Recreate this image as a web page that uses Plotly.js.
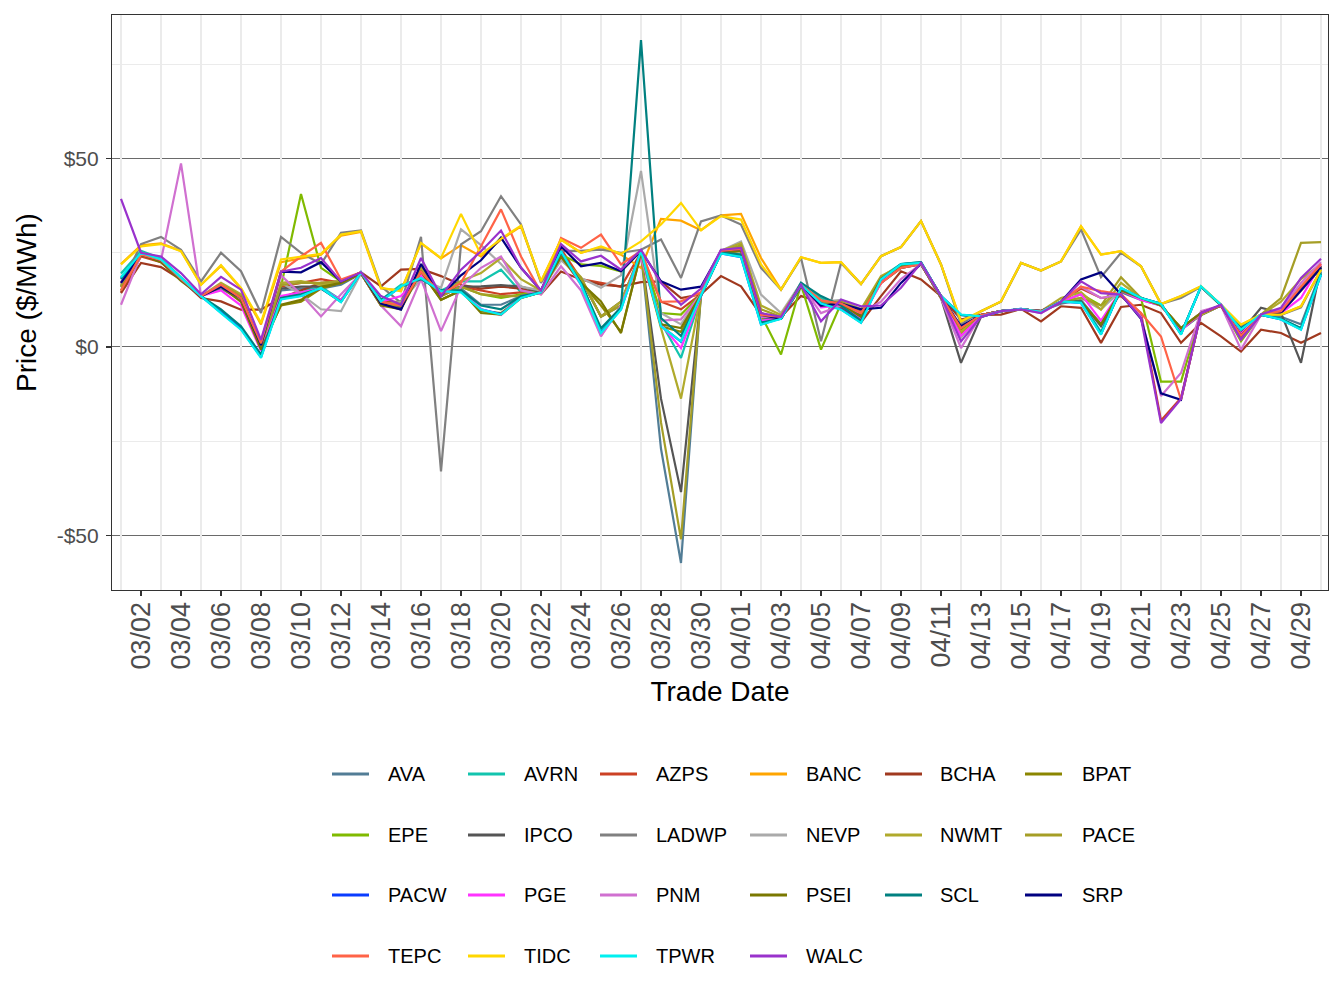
<!DOCTYPE html>
<html>
<head>
<meta charset="utf-8">
<script src="https://cdn.plot.ly/plotly-3.0.1.min.js"></script>
<style>html,body{margin:0;padding:0;background:#ffffff;}</style>
</head>
<body>
<div id="chart" style="width:1344px;height:1008px"></div>
<script>
// Daily trade dates, 1 March to 30 April
const tradeDates = [
  '2023-03-01','2023-03-02','2023-03-03','2023-03-04','2023-03-05','2023-03-06','2023-03-07','2023-03-08','2023-03-09','2023-03-10',
  '2023-03-11','2023-03-12','2023-03-13','2023-03-14','2023-03-15','2023-03-16','2023-03-17','2023-03-18','2023-03-19','2023-03-20',
  '2023-03-21','2023-03-22','2023-03-23','2023-03-24','2023-03-25','2023-03-26','2023-03-27','2023-03-28','2023-03-29','2023-03-30',
  '2023-03-31','2023-04-01','2023-04-02','2023-04-03','2023-04-04','2023-04-05','2023-04-06','2023-04-07','2023-04-08','2023-04-09',
  '2023-04-10','2023-04-11','2023-04-12','2023-04-13','2023-04-14','2023-04-15','2023-04-16','2023-04-17','2023-04-18','2023-04-19',
  '2023-04-20','2023-04-21','2023-04-22','2023-04-23','2023-04-24','2023-04-25','2023-04-26','2023-04-27','2023-04-28','2023-04-29',
  '2023-04-30'
];

// Daily average price by balancing area ($/MWh)
const AVA = [
  17, 24.5, 23, 18, 13.5, 15.5, 12.5, -0.5, 15, 15.5,
  15.5, 16.5, 19.5, 11.5, 12, 20, 14, 15.5, 11.2, 11.2,
  13.5, 14.5, 24, 18, 8, 11, 25, -27, -57.3, 14,
  25, 25.5, 7.5, 7.5, 16.5, 11, 11, 8, 17.5, 21.5,
  22, 13, 5, 8.5, 9.5, 10, 9.5, 11.5, 12.5, 6,
  14.5, 12.5, 11, 4.5, 8.5, 11, 3, 8.5, 8, 6,
  20];
const AVRN = [
  19.5, 25.5, 23.5, 18.5, 13.5, 9.5, 5, -2.5, 13, 14.5,
  16, 12.5, 19.8, 12.5, 16.5, 18, 15, 17.4, 17.4, 20.5,
  14.5, 14.5, 25, 17, 4.5, 10.4, 25.5, 6.5, -2.9, 13.5,
  25, 24.5, 6.5, 8, 17, 13, 10.5, 7, 18.5, 22,
  22.5, 13.5, 8.5, 8, 9.5, 10, 9.5, 12, 12, 4,
  15.5, 13, 11.5, 3.5, 16, 11, 5, 8.5, 7.5, 5,
  19.5];
const AZPS = [
  14.5, 24, 22.5, 18, 13.5, 16, 12.5, 0.5, 16, 17,
  18, 17, 19.5, 12, 12, 20, 14.5, 16, 15, 14,
  14.5, 15, 26, 18, 17, 16, 25, 12, 10, 14,
  25.5, 26, 8.5, 7.5, 16.5, 12, 12, 9.5, 17, 21,
  22, 13.5, 5, 8.5, 9.5, 10, 9.5, 12, 15.5, 13,
  13.5, 9, -19.5, -13.5, 9, 11, 3, 8.5, 9.5, 15.5,
  21.5];
const BANC = [
  22, 27, 27.5, 25.5, 16.5, 21.5, 15.5, 6, 22.5, 23.5,
  24.5, 29.5, 30.5, 15.5, 15, 27.5, 23.5, 27, 24, 28.5,
  32, 17.4, 28.5, 25, 26.5, 24.5, 21, 34, 33.5, 31,
  34.9, 35.3, 23.6, 15.2, 23.8, 22.3, 22.5, 16.7, 24.1, 26.5,
  33.4, 21.9, 6.8, 9.5, 12.1, 22.3, 20.3, 22.7, 32, 24.5,
  25.4, 21.4, 11.4, 13.5, 16.1, 11.2, 5.9, 8.6, 8.6, 10.8,
  20.5];
const BCHA = [
  14.3, 22.3, 21.2, 17.9, 13, 12.1, 9.9, 9.9, 13, 15,
  17, 17.4, 19.8, 16.1, 20.5, 20.7, 18.8, 16.5, 15.5, 16,
  15.5, 14, 20, 17.9, 16.5, 16.1, 17.2, 17.4, 13, 14,
  18.8, 16.1, 8.5, 8, 13.5, 12, 10.5, 6.5, 13.5, 20.1,
  17.9, 13.5, 7.3, 8.5, 8.6, 10.1, 6.8, 10.8, 10.4, 1.1,
  10.6, 11.2, 9, 1.1, 6.4, 2.8, -1.2, 4.6, 3.7, 1.1,
  3.7];
const BPAT = [
  16, 24.5, 23, 18, 13.5, 16, 12.5, 0, 11, 12,
  15.5, 17, 19.5, 11, 11, 20, 12.5, 15, 9.5, 9,
  13, 14.5, 24, 17, 11, 4, 25, 5.5, 4, 14,
  25, 25.5, 8.5, 7.5, 16.5, 11, 11.5, 8, 18, 21.5,
  22, 13, 4.5, 8.5, 9.5, 10, 9.5, 12, 12, 6,
  15, 13, 11, 5, 9, 11, 2.5, 8.5, 9, 15,
  21];
const EPE = [
  16.5, 24.5, 23, 18, 13.5, 16, 13, 0, 16, 40.6,
  21, 17.4, 19.8, 11.5, 12, 20, 14, 16, 14, 13,
  14, 15, 24.5, 21.9, 21.5, 20, 25.5, 9, 8.6, 14,
  25.5, 26.5, 8.5, -2, 16.5, -0.7, 11.5, 8.1, 17, 21.5,
  22.3, 13.5, 4, 8.5, 9.5, 10, 9.5, 12, 14, 11,
  15, 13, -9.2, -9.2, 9, 11, 1.5, 8.6, 9, 15,
  21];
const IPCO = [
  16, 25, 23, 18, 13.5, 16, 13, 0, 15.5, 16,
  16, 17, 19.5, 11.5, 10.5, 20, 13.5, 16, 16.1, 16.4,
  16, 14.5, 24, 18, 8.1, 12, 25, -13.7, -38.5, 14,
  25, 26, 8, 7.5, 16, 11, 11.5, 8.5, 17, 21,
  22, 13, -4.2, 8, 9.5, 10, 9.5, 12, 12.1, 5.5,
  15, 13, 11, 5, 8.5, 11, 4, 10.4, 9, -4.2,
  21.4];
const LADWP = [
  16, 27.3, 29.2, 25.8, 17.4, 25, 20.1, 9, 29.2, 25,
  22, 30.3, 30.9, 16.1, 11.7, 29.2, -33, 27.2, 30.7, 40,
  32.5, 17, 25.5, 25.5, 25.8, 25, 25.8, 28.5, 18.3, 33.3,
  34.9, 32.5, 21, 15.2, 23.6, 1.5, 22.3, 16.7, 24.1, 26.5,
  33.4, 21.9, 6, 9.5, 12, 22.3, 20.3, 22.7, 31.2, 18.5,
  25, 21.4, 11.4, 13, 16, 11, 5.5, 8.6, 8.5, 10.5,
  20.5];
const NEVP = [
  16, 25, 23, 18, 13.5, 16, 13, 0.5, 17, 14,
  10, 9.5, 19.5, 11, 12, 18, 15.7, 31.2, 27, 22,
  16, 15, 23, 18.3, 15.7, 19, 46.7, 9, 6, 14,
  25.5, 28, 13.9, 9, 17, 12, 12.5, 10, 18, 21.5,
  22, 13, 2.5, 8.5, 9.5, 10, 9.5, 12, 13, 10,
  15, 13, 11, 5, 9, 11, 3, 8.5, 9, 15,
  21];
const NWMT = [
  17, 25, 23, 18, 13.5, 17, 14, 0, 17, 17.5,
  16.5, 17, 19.5, 11.5, 11.5, 21, 14, 17.5, 19.6, 23.6,
  18, 15, 24, 18, 8.1, 12, 25, 5, -13.7, 14,
  25.5, 27.5, 11, 8.5, 16.5, 12, 12, 10, 18.8, 21.5,
  22, 13, 4, 8.5, 9.5, 10, 9.5, 13, 14.5, 9.9,
  17, 13, 11, 5, 8.5, 11, 2, 8.5, 12, 18,
  22];
const PACE = [
  16, 25, 23, 18, 13.5, 16.5, 13.5, -0.7, 16.5, 17,
  17, 17.5, 19.5, 11, 11, 20, 13.5, 16, 14, 13.5,
  13.5, 14.5, 24, 18.5, 8, 11, 25, -20, -51, 14,
  25, 27, 10, 8, 16.5, 11.5, 12, 9, 18.5, 21.5,
  22, 13, 3.3, 8.5, 9.5, 10, 9.5, 12, 13, 11,
  18.5, 13, 11, 5, 9, 11, 3, 8.6, 13, 27.6,
  27.8];
const PACW = [
  18.3, 24.8, 23, 18.1, 13.5, 9.2, 4.8, -2.7, 12.8, 13.6,
  15.6, 12, 19.8, 12.2, 16, 18.2, 14.8, 14.6, 10, 8.7,
  13.1, 14.5, 25.3, 16.6, 3.8, 10, 25.5, 5.6, 1.4, 13.8,
  24.8, 23.8, 6, 7.6, 16.5, 11.6, 10, 6.5, 17.8, 21.9,
  22.3, 13.5, 8.5, 8.1, 9.5, 10.1, 9.3, 12, 11.7, 3.4,
  15.6, 13, 11.4, 3.4, 16, 11.2, 4.7, 8.6, 7.3, 4.7,
  19.1];
const PGE = [
  17, 25, 23, 18, 13.5, 15, 11, -1, 13.5, 14.5,
  15.5, 12.5, 19.8, 12, 13.5, 19, 14.5, 15, 10, 8.5,
  13.5, 14.5, 24.5, 16.5, 3, 10.5, 25, 6, -0.3, 13.5,
  25.5, 25.5, 7, 7.5, 16.5, 10.5, 11, 7.5, 17, 21.5,
  22, 13, 3, 8, 9.5, 10, 9.5, 12, 14, 7,
  15, 12.5, 11, 4.5, 9, 11, 3.5, 8.5, 9, 13,
  22];
const PNM = [
  11.2, 24.5, 23, 48.7, 13.5, 16.5, 12.5, 1.5, 19, 14,
  8.1, 14, 19.5, 11, 5.5, 18, 4.2, 16, 21, 24,
  15, 14, 21.4, 15, 2.8, 11, 23.5, 7, 7.3, 14,
  25.5, 25.5, 8, 8, 16.5, 9, 11, 9, 12, 18,
  22, 13, -0.3, 8.5, 9.5, 10, 9, 12, 16, 13,
  14, 8, -13, -6.9, 9.5, 11, -0.7, 8.5, 10, 17,
  22.5];
const PSEI = [
  15, 24.5, 22.5, 17.5, 13.5, 16, 12, -0.7, 11.2, 12.5,
  16, 17, 19.5, 11, 10, 20, 12.5, 15, 9, 8.6,
  13, 14.5, 24, 17, 12.1, 3.7, 25, 6, 5, 14,
  25, 25.5, 9, 7.5, 16.5, 11, 11.5, 8, 18, 21.5,
  22, 13, 5, 8.5, 9.5, 10, 9.5, 12, 12, 6,
  15, 13, 11, 5, 9, 11, 3, 8.5, 9, 16,
  21];
const SCL = [
  18, 25, 23, 18, 13.5, 10, 5.5, -2, 13, 14,
  15.5, 12, 19.8, 12.5, 16, 18, 15, 15, 11, 10,
  13.5, 14.5, 25, 17, 5, 10.5, 81.4, 7.7, 2.9, 13.5,
  25, 24.5, 6.5, 7.5, 17, 13.5, 11, 7, 18, 22,
  22.5, 13.5, 8.5, 8, 9.5, 10, 9.5, 12, 12, 3.5,
  15.5, 13, 11.5, 3.5, 16, 11, 5, 8.5, 7.5, 5,
  19.5];
const SRP = [
  17, 24.5, 23, 18, 13.5, 16, 13, 0.5, 20, 19.8,
  22.5, 17.4, 19.8, 11.5, 9.9, 22, 13.5, 19, 23, 29,
  21, 15, 26.7, 21.4, 22.3, 20.1, 25.5, 17.4, 15.2, 16,
  25.5, 26, 8.5, 7.5, 16.5, 11, 11.5, 10, 10.4, 17,
  22, 13.5, 5.5, 8.5, 9.5, 10, 9.5, 12, 17.9, 19.8,
  13.9, 7.5, -12.3, -14, 9, 11, 3, 8.6, 9, 15,
  21];
const TEPC = [
  15, 24.5, 23, 18, 13.5, 16.5, 13, 1, 20, 24,
  27.6, 17.9, 19.8, 12, 11, 20, 14, 17, 26.7, 36.5,
  24, 14.5, 28.9, 26.3, 29.8, 21.9, 25.5, 12, 12.1, 14.5,
  25.5, 26, 8.5, 8, 16.5, 12.4, 11.5, 9, 17, 21,
  22, 13.5, 5, 8.5, 9.5, 10, 9.5, 12, 16, 14.8,
  14, 9, 2.8, -14, 9, 11, 3, 8.6, 9.5, 16,
  22];
const TIDC = [
  21.9, 26.7, 27.3, 25.4, 16.5, 21.7, 15.7, 6.4, 23.2, 24,
  24.7, 29.8, 30.7, 15.7, 14.8, 27.6, 23.6, 35.3, 24.5, 28.7,
  32.2, 17.4, 28.5, 25, 26.7, 24.7, 28, 32.5, 38.2, 31,
  34.7, 33.8, 21.9, 15.2, 23.8, 22.3, 22.5, 16.7, 24.1, 26.5,
  33.4, 21.9, 6.8, 9.5, 12.1, 22.3, 20.3, 22.7, 32, 24.5,
  25.4, 21.4, 11.4, 13.5, 16.1, 11.2, 5.9, 8.6, 8.6, 10.8,
  20.5];
const TPWR = [
  18.5, 25, 23.2, 18.3, 13.5, 9, 4.6, -2.9, 12.6, 13.5,
  15.7, 11.9, 19.8, 12.1, 16.1, 18.3, 14.8, 14.5, 9.9, 8.6,
  13, 14.5, 25.4, 16.5, 3.7, 9.9, 25.5, 5.5, 1.5, 13.8,
  24.8, 23.9, 5.9, 7.5, 16.5, 11.5, 9.9, 6.4, 17.9, 21.9,
  22.3, 13.5, 8.6, 8.1, 9.5, 10.1, 9.3, 12.1, 11.7, 3.3,
  15.7, 13, 11.4, 3.3, 16.1, 11.2, 4.6, 8.6, 7.3, 4.6,
  19.2];
const WALC = [
  39.3, 25, 24, 19.6, 14, 18.6, 15.2, 1.9, 20, 21,
  23.6, 17.4, 19.8, 13.5, 11.2, 23.6, 13.5, 20.5, 25.4, 30.9,
  21, 15, 27.3, 22.7, 24.2, 20.5, 25.8, 17, 11.2, 15.5,
  25.8, 26.3, 9, 8, 16.5, 6.8, 12.6, 10.8, 11, 15.7,
  22.3, 13.5, 1.5, 8, 9.5, 10, 9, 12, 17.4, 14.3,
  13.9, 7.7, -20.2, -13.8, 9, 11.2, 2, 8.6, 10.4, 18.3,
  23.4];

// Areas in legend order, with their line colours
const areaNames = ['AVA','AVRN','AZPS','BANC','BCHA','BPAT',
                   'EPE','IPCO','LADWP','NEVP','NWMT','PACE',
                   'PACW','PGE','PNM','PSEI','SCL','SRP',
                   'TEPC','TIDC','TPWR','WALC'];
const areaPrices = [AVA, AVRN, AZPS, BANC, BCHA, BPAT,
                    EPE, IPCO, LADWP, NEVP, NWMT, PACE,
                    PACW, PGE, PNM, PSEI, SCL, SRP,
                    TEPC, TIDC, TPWR, WALC];
const areaColors = ['#527D96','#12C4AE','#CC4125','#FFA500','#A0391F','#8B8600',
                    '#80BA00','#555555','#808080','#AAAAAA','#B0AA2C','#A59E26',
                    '#0A3CFF','#FF33FF','#D070D0','#7A7800','#008080','#000080',
                    '#FF6347','#FFD700','#00F0F0','#9932CC'];

const yTickVals = [-50, 0, 50];
const yTickText = ['-$50', '$0', '$50'];

const xRange = ['2023-02-28 13:12', '2023-04-30 08:24'];
const twoDays = 172800000;

// Empty trace that carries the odd-day vertical grid axis
const gridCarrier = {
  type: 'scatter', mode: 'lines', x: [], y: [],
  xaxis: 'x2', yaxis: 'y', hoverinfo: 'skip', showlegend: false
};

const traces = [gridCarrier].concat(areaNames.map((name, i) => ({
  type: 'scatter',
  mode: 'lines',
  name: name,
  x: tradeDates,
  y: areaPrices[i],
  line: {color: areaColors[i], width: 2.2},
  hovertemplate: name + ' %{x|%m/%d}: $%{y:.2f}<extra></extra>'
})));

// Plot area geometry in pixels, used to place the legend grid below the axes
const W = 1344, H = 1008;
const M = {l: 112, r: 16, t: 15, b: 418};
const plotW = W - M.l - M.r, plotH = H - M.t - M.b;
const px = x => (x - M.l) / plotW;
const py = y => (H - M.b - y) / plotH;

const legKeyX = [332, 468, 600, 750, 885, 1025];
const legTextX = [386, 522, 654, 804, 938, 1080];
const legRowY = [774, 835, 895, 956];

const shapes = [];
const annotations = [];
areaNames.forEach((name, i) => {
  const col = i % 6, row = Math.floor(i / 6);
  const y = legRowY[row];
  shapes.push({
    type: 'line', xref: 'paper', yref: 'paper',
    x0: px(legKeyX[col]), x1: px(legKeyX[col] + 37),
    y0: py(y), y1: py(y),
    line: {color: areaColors[i], width: 2.8}
  });
  annotations.push({
    xref: 'paper', yref: 'paper',
    x: px(legTextX[col]), y: py(y),
    xanchor: 'left', yanchor: 'middle',
    text: name, showarrow: false,
    font: {size: 20, color: '#000000'}
  });
});

const layout = {
  width: W, height: H,
  margin: M,
  paper_bgcolor: '#FFFFFF',
  plot_bgcolor: '#FFFFFF',
  showlegend: false,
  font: {family: 'Liberation Sans, Arial, Helvetica, sans-serif', color: '#000000'},
  xaxis: {
    type: 'date',
    range: xRange,
    tickmode: 'linear',
    tick0: '2023-03-02',
    dtick: twoDays,
    tickformat: '%m/%d',
    tickangle: -90,
    ticks: 'outside', ticklen: 5, tickwidth: 1.1, tickcolor: '#333333',
    tickfont: {size: 27, color: '#4D4D4D'},
    ticklabelstandoff: -5,
    showgrid: false,
    zeroline: false,
    showline: true, mirror: true, linecolor: '#333333', linewidth: 1.1,
    title: {text: 'Trade Date', font: {size: 28, color: '#000000'}, standoff: 12}
  },
  xaxis2: {
    type: 'date',
    overlaying: 'x',
    anchor: 'y',
    range: xRange,
    tickmode: 'linear',
    tick0: '2023-03-01',
    dtick: twoDays,
    showticklabels: false,
    ticks: '',
    showgrid: true, gridcolor: '#EBEBEB', gridwidth: 1.1,
    zeroline: false,
    showline: false
  },
  yaxis: {
    range: [-64.46, 88.06],
    tickmode: 'array',
    tickvals: yTickVals,
    ticktext: yTickText,
    ticks: 'outside', ticklen: 5, tickwidth: 1.1, tickcolor: '#333333',
    tickfont: {size: 21, color: '#4D4D4D'},
    ticklabelstandoff: 3,
    showgrid: true, gridcolor: '#5A5A5A', gridwidth: 0.9,
    minor: {tickmode: 'array', tickvals: [-25, 25, 75], showgrid: true, gridcolor: '#EBEBEB', gridwidth: 1.1, ticks: ''},
    zeroline: false,
    showline: true, mirror: true, linecolor: '#333333', linewidth: 1.1,
    title: {text: 'Price ($/MWh)', font: {size: 28, color: '#000000'}, standoff: 11}
  },
  shapes: shapes,
  annotations: annotations
};

Plotly.newPlot('chart', traces, layout, {displayModeBar: false, staticPlot: true});
</script>
</body>
</html>
